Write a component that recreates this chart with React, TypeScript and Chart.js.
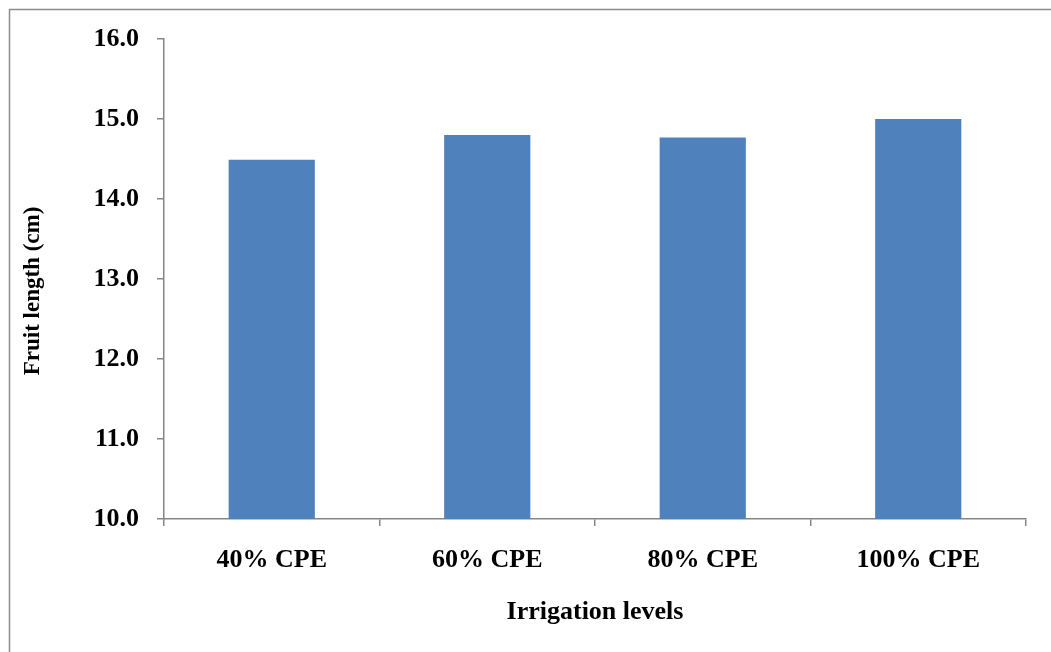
import React, { useEffect, useRef } from "react";
import { Chart, registerables } from "chart.js";

Chart.register(...registerables);

const categories: string[] = ["40% CPE", "60% CPE", "80% CPE", "100% CPE"];
const fruitLength: number[] = [14.49, 14.8, 14.77, 15.0];
const yTitle = "Fruit length (cm)";
const xTitle = "Irrigation levels";

const FONT = "'Liberation Serif', 'Times New Roman', serif";
const AXIS = "#868686";

const framePlugin = {
  id: "frame",
  beforeDraw(chart: any) {
    const ctx = chart.ctx;
    ctx.save();
    ctx.fillStyle = "#ffffff";
    ctx.fillRect(0, 0, chart.width, chart.height);
    ctx.strokeStyle = "#8c8c8c";
    ctx.lineWidth = 1.5;
    ctx.beginPath();
    ctx.moveTo(9.5, chart.height);
    ctx.lineTo(9.5, 9.5);
    ctx.lineTo(chart.width, 9.5);
    ctx.stroke();
    ctx.restore();
  },
  afterDraw(chart: any) {
    const ctx = chart.ctx;
    ctx.save();
    ctx.translate(33, 291);
    ctx.rotate(-Math.PI / 2);
    ctx.fillStyle = "#000";
    ctx.font = `bold 23px ${FONT}`;
    ctx.textAlign = "center";
    ctx.textBaseline = "middle";
    ctx.fillText(yTitle, 0, 0);
    ctx.restore();
  },
};

export default function App() {
  const ref = useRef<HTMLCanvasElement | null>(null);
  useEffect(() => {
    if (!ref.current) return;
    const chart = new Chart(ref.current, {
      type: "bar",
      data: {
        labels: categories,
        datasets: [
          {
            data: fruitLength,
            backgroundColor: "#4F81BD",
            borderWidth: 0,
            categoryPercentage: 0.4,
            barPercentage: 1,
          },
        ],
      },
      options: {
        responsive: false,
        animation: false,
        layout: { padding: { left: 0, top: 39, right: 25, bottom: 0 } },
        plugins: { legend: { display: false }, tooltip: { enabled: false } },
        scales: {
          x: {
            afterFit: (s: any) => {
              s.height = 133;
            },
            grid: {
              drawOnChartArea: false,
              drawTicks: true,
              tickLength: 7,
              color: AXIS,
              lineWidth: 1.5,
              offset: true,
            },
            border: { color: AXIS, width: 1.5 },
            ticks: {
              color: "#000",
              padding: 19,
              font: { family: FONT, size: 26, weight: "bold" },
            },
            title: {
              display: true,
              text: xTitle,
              color: "#000",
              padding: { top: 0, bottom: 24 },
              font: { family: FONT, size: 26, weight: "bold" },
            },
          },
          y: {
            min: 10,
            max: 16,
            afterFit: (s: any) => {
              s.width = 164;
            },
            grid: {
              drawOnChartArea: false,
              drawTicks: true,
              tickLength: 7,
              color: AXIS,
              lineWidth: 1.5,
            },
            border: { color: AXIS, width: 1.5 },
            ticks: {
              stepSize: 1,
              color: "#000",
              padding: 18,
              callback: (v: any) => Number(v).toFixed(1),
              font: { family: FONT, size: 26, weight: "bold" },
            },
            title: { display: false },
          },
        },
      },
      plugins: [framePlugin],
    });
    return () => chart.destroy();
  }, []);
  return (
    <div style={{ position: "fixed", left: 0, top: 0, width: 1051, height: 652, background: "#fff" }}>
      <canvas ref={ref} width={1051} height={652} style={{ display: "block" }} />
    </div>
  );
}
